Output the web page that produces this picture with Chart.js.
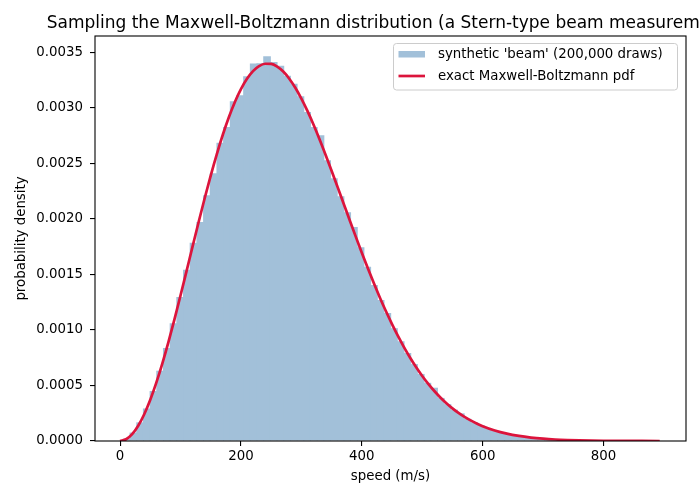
<!DOCTYPE html>
<html>
<head>
<meta charset="utf-8">
<script src="https://cdn.jsdelivr.net/npm/chart.js@4.4.1/dist/chart.umd.min.js"></script>
<style>
  html, body { margin: 0; padding: 0; background: #fff; }
  #wrap { width: 700px; height: 500px; overflow: hidden; }
</style>
</head>
<body>
<div id="wrap"><canvas id="chart" width="700" height="500"></canvas></div>
<script>
// histogram bin centres (m/s) and densities
const binCenters = [
  10.9, 22.0, 33.1, 44.1, 55.2, 66.2, 77.3, 88.4, 99.4, 110.5,
  121.5, 132.6, 143.7, 154.7, 165.8, 176.8, 187.9, 199.0, 210.0, 221.1,
  232.1, 243.2, 254.3, 265.3, 276.4, 287.4, 298.5, 309.6, 320.6, 331.7,
  342.7, 353.8, 364.9, 375.9, 387.0, 398.0, 409.1, 420.2, 431.2, 442.3,
  453.3, 464.4, 475.5, 486.5, 497.6, 508.6, 519.7, 530.8, 541.8, 552.9,
  563.9, 575.0, 586.1, 597.1, 608.2, 619.2, 630.3, 641.4, 652.4, 663.5,
  674.5, 685.6, 696.7, 707.7, 718.8, 729.8, 740.9, 752.0, 763.0, 774.1,
  785.1, 796.2, 807.3, 818.3, 829.4, 840.4, 851.5, 862.6, 873.6, 884.7
];
const binDensity = [
  0.000020, 0.000076, 0.000168, 0.000293, 0.000450, 0.000633, 0.000838, 0.001061, 0.001297, 0.001541,
  0.001786, 0.001973, 0.002213, 0.002410, 0.002685, 0.002828, 0.003059, 0.003113, 0.003284, 0.003400,
  0.003401, 0.003464, 0.003413, 0.003380, 0.003290, 0.003218, 0.003104, 0.002963, 0.002828, 0.002753,
  0.002528, 0.002366, 0.002204, 0.002060, 0.001928, 0.001745, 0.001568, 0.001404, 0.001269, 0.001152,
  0.001016, 0.000899, 0.000792, 0.000693, 0.000604, 0.000524, 0.000480, 0.000388, 0.000332, 0.000282,
  0.000249, 0.000200, 0.000168, 0.000140, 0.000116, 0.000096, 0.000079, 0.000065, 0.000053, 0.000043,
  0.000034, 0.000028, 0.000022, 0.0000175, 0.0000138, 0.0000109, 0.0000086, 0.0000067, 0.0000052, 0.0000040,
  0.0000031, 0.0000024, 0.0000018, 0.0000014, 0.0000009, 0.0000009, 0.00000045, 0, 0.00000045, 0.00000045
];

// exact pdf curve
const curveSpeed = [
  0, 10, 20, 30, 40, 50, 60, 70, 80, 90,
  100, 110, 120, 130, 140, 150, 160, 170, 180, 190,
  200, 210, 220, 230, 240, 250, 260, 270, 280, 290,
  300, 310, 320, 330, 340, 350, 360, 370, 380, 390,
  400, 410, 420, 430, 440, 450, 460, 470, 480, 490,
  500, 510, 520, 530, 540, 550, 560, 570, 580, 590,
  600, 620, 640, 660, 680, 700, 720, 740, 760, 780,
  800, 840, 893
];
const curvePdf = [
  0, 0.0000155, 0.0000616, 0.0001373, 0.0002413, 0.0003714, 0.0005250, 0.0006992, 0.0008905, 0.0010954,
  0.0013099, 0.0015302, 0.0017522, 0.0019720, 0.0021858, 0.0023901, 0.0025817, 0.0027577, 0.0029155, 0.0030530,
  0.0031687, 0.0032614, 0.0033305, 0.0033756, 0.0033971, 0.0033953, 0.0033715, 0.0033267, 0.0032625, 0.0031808,
  0.0030835, 0.0029724, 0.0028497, 0.0027179, 0.0025785, 0.0024340, 0.0022862, 0.0021369, 0.0019878, 0.0018401,
  0.0016955, 0.0015550, 0.0014198, 0.0012906, 0.0011681, 0.0010524, 0.0009440, 0.0008435, 0.0007498, 0.0006642,
  0.0005859, 0.0005145, 0.0004503, 0.0003921, 0.0003403, 0.0002940, 0.0002531, 0.0002170, 0.0001853, 0.0001576,
  0.0001335, 0.0000947, 0.0000661, 0.0000455, 0.0000308, 0.0000206, 0.0000135, 0.0000088, 0.0000056, 0.0000035,
  0.0000022, 0.0000008, 0.0000002
];

const xTickValues = [0, 200, 400, 600, 800];
const titleText = 'Sampling the Maxwell-Boltzmann distribution (a Stern-type beam measurement)';
const histLabel = "synthetic 'beam' (200,000 draws)";
const curveLabel = 'exact Maxwell-Boltzmann pdf';

const histColor = 'rgb(162,192,217)';
const curveColor = '#dc143c';
const fontFamily = '"DejaVu Sans", sans-serif';

// frame round the plot area (matplotlib spines)
const framePlugin = {
    id: 'frame',
    afterDatasetsDraw(chart) {
        const { ctx, chartArea: a } = chart;
        ctx.save();
        ctx.strokeStyle = '#000';
        ctx.lineWidth = 1.1;
        ctx.strokeRect(a.left, a.top, a.right - a.left, a.bottom - a.top);
        ctx.restore();
    }
};

// title centred over the axes, legend box in the upper right
const overlayPlugin = {
    id: 'overlay',
    afterDraw(chart) {
        const { ctx, chartArea: a } = chart;
        ctx.save();
        ctx.fillStyle = '#000';
        ctx.font = '17px ' + fontFamily;
        ctx.textAlign = 'center';
        ctx.textBaseline = 'alphabetic';
        ctx.fillText(titleText, (a.left + a.right) / 2, 28);

        const bx = 393.5, by = 43.5, bw = 284, bh = 46.5;
        ctx.beginPath();
        ctx.roundRect(bx, by, bw, bh, 3);
        ctx.fillStyle = 'rgba(255,255,255,0.8)';
        ctx.fill();
        ctx.strokeStyle = '#cccccc';
        ctx.lineWidth = 1;
        ctx.stroke();

        ctx.fillStyle = histColor;
        ctx.fillRect(398.5, 51, 26.5, 6.5);
        ctx.strokeStyle = curveColor;
        ctx.lineWidth = 2.7;
        ctx.beginPath();
        ctx.moveTo(398.5, 76);
        ctx.lineTo(425, 76);
        ctx.stroke();

        ctx.fillStyle = '#000';
        ctx.font = '13.33px ' + fontFamily;
        ctx.textAlign = 'left';
        ctx.textBaseline = 'middle';
        ctx.fillText(histLabel, 438, 54.5);
        ctx.fillText(curveLabel, 438, 76.5);
        ctx.restore();
    }
};

const tickFont = { family: fontFamily, size: 13.33 };

new Chart(document.getElementById('chart').getContext('2d'), {
    type: 'bar',
    data: {
        datasets: [
            {
                type: 'line',
                label: curveLabel,
                data: curveSpeed.map((v, i) => ({ x: v, y: curvePdf[i] })),
                borderColor: curveColor,
                borderWidth: 2.7,
                pointRadius: 0,
                fill: false,
                cubicInterpolationMode: 'monotone',
                order: 0
            },
            {
                type: 'bar',
                label: histLabel,
                data: binCenters.map((v, i) => ({ x: v, y: binDensity[i] })),
                backgroundColor: histColor,
                borderWidth: 0,
                barPercentage: 1.15,
                categoryPercentage: 1.0,
                order: 1
            }
        ]
    },
    options: {
        responsive: false,
        devicePixelRatio: 1,
        animation: false,
        events: [],
        layout: { padding: { top: 36, right: 14, left: 0, bottom: 0 } },
        plugins: {
            legend: { display: false },
            title: { display: false },
            tooltip: { enabled: false }
        },
        scales: {
            x: {
                type: 'linear',
                min: -41.5,
                max: 936.5,
                offset: false,
                afterFit(scale) { scale.height = 59; },
                afterBuildTicks(scale) {
                    scale.ticks = xTickValues.map(v => ({ value: v }));
                },
                border: { display: false },
                grid: {
                    display: true,
                    offset: false,
                    drawOnChartArea: false,
                    drawTicks: true,
                    tickLength: 5,
                    color: '#000',
                    lineWidth: 1.1
                },
                ticks: {
                    color: '#000',
                    font: tickFont,
                    padding: 3,
                    maxRotation: 0,
                    includeBounds: false,
                    callback: v => String(v)
                },
                title: {
                    display: true,
                    text: 'speed (m/s)',
                    color: '#000',
                    font: tickFont,
                    padding: { top: 0, bottom: 15 }
                }
            },
            y: {
                min: 0,
                max: 0.003647,
                afterFit(scale) { scale.width = 95; },
                border: { display: false },
                grid: {
                    display: true,
                    drawOnChartArea: false,
                    drawTicks: true,
                    tickLength: 5,
                    color: '#000',
                    lineWidth: 1.1
                },
                ticks: {
                    color: '#000',
                    font: tickFont,
                    padding: 7,
                    stepSize: 0.0005,
                    includeBounds: false,
                    callback: v => v.toFixed(4)
                },
                title: {
                    display: true,
                    text: 'probability density',
                    color: '#000',
                    font: tickFont,
                    padding: { top: 14, bottom: 0 }
                }
            }
        }
    },
    plugins: [framePlugin, overlayPlugin]
});
</script>
</body>
</html>
